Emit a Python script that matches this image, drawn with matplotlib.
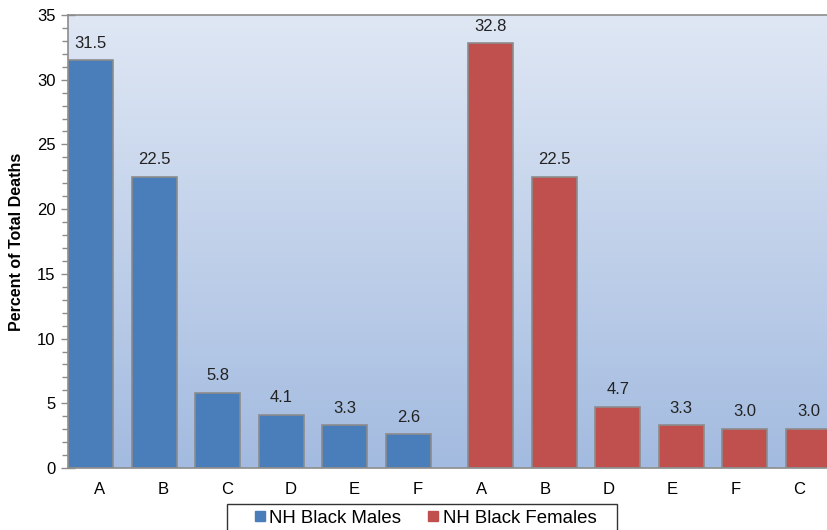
import matplotlib
matplotlib.use("Agg")
import matplotlib.pyplot as plt
import numpy as np
from matplotlib.lines import Line2D
from matplotlib.patches import Rectangle
from matplotlib.colors import LinearSegmentedColormap

plt.rcParams['font.family'] = ['Liberation Sans', 'DejaVu Sans']

categories = ["A", "B", "C", "D", "E", "F", "A", "B", "D", "E", "F", "C"]
males = [31.5, 22.5, 5.8, 4.1, 3.3, 2.6, None, None, None, None, None, None]
females = [None, None, None, None, None, None, 32.8, 22.5, 4.7, 3.3, 3.0, 3.0]
series_names = ["NH Black Males", "NH Black Females"]
colors = ["#4a7ebb", "#c0504d"]

fig = plt.figure(figsize=(8.27, 5.30), dpi=100)
ax = fig.add_axes([68/827, 1-468/530, (831-68)/827, (468-15)/530])

# gradient background
grad = np.linspace(0, 1, 256).reshape(-1, 1)
cmap = LinearSegmentedColormap.from_list("bg", ["#dfe7f4", "#a3bbe0"])
ax.imshow(grad, extent=[0, 1, 0, 1], transform=ax.transAxes, aspect='auto',
          cmap=cmap, zorder=0, origin='upper')

x = np.arange(len(categories))
width = 0.71
offset = 0.145
for vals, off, col in [(males, -offset, colors[0]), (females, offset, colors[1])]:
    xs = [xi + off for xi, v in zip(x, vals) if v is not None]
    vs = [v for v in vals if v is not None]
    ax.bar(xs, vs, width=width, color=col, edgecolor="#8c8c8c", linewidth=1.2, zorder=2)
    for xi, v in zip(xs, vs):
        ax.text(xi, v + 0.75, f"{v:.1f}", ha='center', va='bottom', fontsize=12, color='#222222', zorder=3)

ax.set_xlim(-0.5, 11.5)
ax.set_ylim(0, 35)
ax.set_xticks(x)
ax.set_xticklabels(categories, fontsize=12)
ax.set_yticks(np.arange(0, 36, 5))
ax.set_yticks(np.arange(0, 36, 1), minor=True)
ax.tick_params(axis='y', which='major', direction='inout', length=10, width=1, color='#8c8c8c', labelsize=12, pad=4)
ax.tick_params(axis='y', which='minor', direction='out', length=4, width=1, color='#8c8c8c')
ax.tick_params(axis='x', length=0, pad=10)
for s in ['left', 'bottom', 'top']:
    ax.spines[s].set_color('#8c8c8c')
    ax.spines[s].set_linewidth(1.2)
ax.spines['right'].set_visible(False)
ax.set_ylabel("Percent of Total Deaths", fontsize=11.5, fontweight='bold', labelpad=9)

handles = [Line2D([], [], marker='s', linestyle='none', markersize=7, markerfacecolor=c,
                  markeredgecolor=c) for c in colors]
leg = fig.legend(handles, series_names, loc='center left', bbox_to_anchor=(251.6/827, 1-518/530),
                 ncol=2, fontsize=13.4, frameon=False, handletextpad=0.05,
                 columnspacing=1.27, borderpad=0, handlelength=0.9, borderaxespad=0)

fig.patches.append(Rectangle((227/827, -0.1), (617-227)/827, 0.1 + (530-504)/530,
                             transform=fig.transFigure, fill=False, edgecolor='#333333',
                             linewidth=1.0))

fig.savefig("out.png", dpi=100)
